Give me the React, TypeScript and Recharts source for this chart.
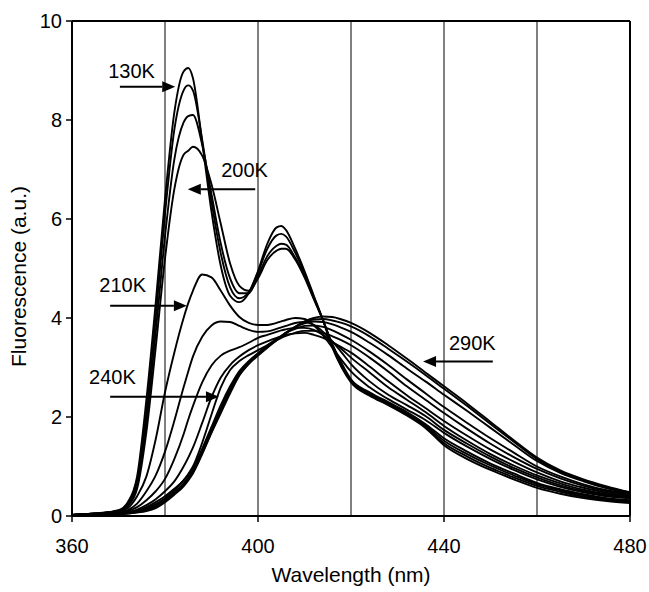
import React from "react";
import {
  LineChart,
  Line,
  XAxis,
  YAxis,
  ReferenceLine,
  ReferenceDot,
} from "recharts";

// wavelength grid (nm)
const wavelength = [
  360, 365, 370, 372, 374, 376, 378, 380, 382, 384, 385, 386, 388, 390, 392,
  394, 396, 398, 400, 402, 404, 405, 406, 408, 410, 412, 414, 416, 418, 420,
  424, 428, 432, 436, 440, 445, 450, 455, 460, 465, 470, 475, 480,
];

// fluorescence (a.u.) per temperature
const k130 = [0.02, 0.05, 0.12, 0.28, 0.8, 2.35, 4.3, 6.4, 8.15, 8.98, 9.05, 8.85, 7.55, 6.15, 5.05, 4.45, 4.32, 4.5, 4.95, 5.5, 5.83, 5.86, 5.78, 5.4, 4.95, 4.45, 3.95, 3.4, 3.0, 2.7, 2.43, 2.24, 2.03, 1.78, 1.43, 1.15, 0.93, 0.74, 0.57, 0.45, 0.36, 0.3, 0.26];
const k150 = [0.02, 0.05, 0.11, 0.25, 0.7, 2.1, 4.0, 6.1, 7.8, 8.6, 8.7, 8.6, 7.6, 6.35, 5.3, 4.62, 4.4, 4.52, 4.92, 5.4, 5.67, 5.7, 5.65, 5.32, 4.9, 4.42, 3.95, 3.42, 3.02, 2.72, 2.45, 2.26, 2.05, 1.8, 1.47, 1.2, 0.97, 0.78, 0.61, 0.49, 0.39, 0.32, 0.28];
const k170 = [0.02, 0.05, 0.1, 0.22, 0.62, 1.9, 3.7, 5.65, 7.2, 7.95, 8.08, 8.1, 7.5, 6.5, 5.5, 4.8, 4.5, 4.5, 4.85, 5.25, 5.46, 5.5, 5.48, 5.22, 4.85, 4.4, 3.95, 3.45, 3.05, 2.74, 2.47, 2.28, 2.07, 1.83, 1.52, 1.25, 1.02, 0.82, 0.64, 0.52, 0.42, 0.34, 0.3];
const k200 = [0.02, 0.05, 0.09, 0.2, 0.55, 1.7, 3.4, 5.2, 6.6, 7.3, 7.38, 7.46, 7.28, 6.7, 5.9, 5.1, 4.65, 4.55, 4.8, 5.17, 5.36, 5.4, 5.4, 5.18, 4.82, 4.38, 3.95, 3.47, 3.08, 2.76, 2.5, 2.3, 2.1, 1.86, 1.57, 1.3, 1.06, 0.86, 0.67, 0.54, 0.44, 0.36, 0.32];
const k210 = [0.02, 0.04, 0.08, 0.16, 0.4, 0.8, 1.55, 2.5, 3.3, 4.0, 4.3, 4.55, 4.88, 4.82, 4.55, 4.25, 4.02, 3.9, 3.86, 3.86, 3.9, 3.93, 3.96, 4.0, 3.98, 3.85, 3.65, 3.4, 3.15, 2.92, 2.6, 2.36, 2.15, 1.94, 1.68, 1.4, 1.15, 0.93, 0.74, 0.59, 0.48, 0.4, 0.36];
const k220 = [0.02, 0.04, 0.07, 0.12, 0.25, 0.5, 0.82, 1.3, 1.92, 2.6, 2.92, 3.22, 3.62, 3.85, 3.93, 3.92, 3.84, 3.76, 3.72, 3.73, 3.78, 3.81, 3.84, 3.9, 3.92, 3.86, 3.72, 3.53, 3.3, 3.07, 2.72, 2.45, 2.24, 2.02, 1.74, 1.46, 1.2, 0.97, 0.78, 0.62, 0.5, 0.42, 0.38];
const k230 = [0.02, 0.04, 0.06, 0.1, 0.18, 0.32, 0.5, 0.75, 1.15, 1.65, 1.95, 2.22, 2.7, 3.04, 3.24, 3.34, 3.41, 3.5, 3.6, 3.66, 3.72, 3.75, 3.77, 3.8, 3.8, 3.76, 3.66, 3.52, 3.37, 3.2, 2.9, 2.6, 2.35, 2.1, 1.82, 1.52, 1.25, 1.02, 0.82, 0.66, 0.53, 0.44, 0.4];
const k240 = [0.02, 0.03, 0.05, 0.08, 0.13, 0.22, 0.34, 0.5, 0.7, 1.0, 1.18, 1.38, 1.88, 2.4, 2.8, 3.05, 3.22, 3.35, 3.45, 3.53, 3.6, 3.63, 3.66, 3.69, 3.7, 3.66, 3.6, 3.51, 3.41, 3.3, 3.02, 2.72, 2.44, 2.18, 1.92, 1.62, 1.34, 1.1, 0.88, 0.7, 0.57, 0.47, 0.41];
const k250 = [0.02, 0.03, 0.05, 0.07, 0.11, 0.18, 0.28, 0.4, 0.55, 0.72, 0.85, 1.0, 1.48, 2.05, 2.6, 2.95, 3.13, 3.25, 3.35, 3.45, 3.55, 3.6, 3.64, 3.7, 3.74, 3.74, 3.7, 3.63, 3.55, 3.45, 3.2, 2.92, 2.62, 2.35, 2.08, 1.76, 1.46, 1.19, 0.95, 0.76, 0.61, 0.5, 0.43];
const k260 = [0.02, 0.03, 0.05, 0.06, 0.1, 0.16, 0.24, 0.36, 0.52, 0.72, 0.83, 0.96, 1.36, 1.8, 2.24, 2.62, 2.93, 3.13, 3.29, 3.45, 3.58, 3.64, 3.7, 3.78, 3.84, 3.85, 3.82, 3.75, 3.66, 3.56, 3.32, 3.05, 2.76, 2.48, 2.2, 1.88, 1.57, 1.28, 1.0, 0.8, 0.64, 0.52, 0.44];
const k270 = [0.02, 0.03, 0.04, 0.06, 0.09, 0.14, 0.21, 0.33, 0.48, 0.66, 0.78, 0.91, 1.3, 1.74, 2.17, 2.57, 2.89, 3.1, 3.27, 3.42, 3.56, 3.63, 3.7, 3.81, 3.89, 3.93, 3.92, 3.87, 3.8, 3.72, 3.5, 3.25, 2.98, 2.72, 2.45, 2.12, 1.78, 1.44, 1.11, 0.87, 0.7, 0.56, 0.46];
const k280 = [0.02, 0.03, 0.04, 0.05, 0.08, 0.12, 0.18, 0.3, 0.45, 0.63, 0.75, 0.88, 1.27, 1.7, 2.11, 2.52, 2.86, 3.08, 3.25, 3.41, 3.55, 3.62, 3.69, 3.82, 3.92, 3.97, 3.98, 3.95, 3.9, 3.83, 3.63, 3.38, 3.12, 2.85, 2.57, 2.22, 1.86, 1.5, 1.15, 0.9, 0.72, 0.58, 0.47];
const k290 = [0.02, 0.03, 0.04, 0.05, 0.07, 0.1, 0.16, 0.28, 0.43, 0.6, 0.72, 0.86, 1.25, 1.68, 2.08, 2.48, 2.84, 3.07, 3.24, 3.4, 3.55, 3.62, 3.7, 3.82, 3.93, 4.0, 4.03, 4.02, 3.97, 3.9, 3.7, 3.45, 3.18, 2.9, 2.62, 2.27, 1.9, 1.53, 1.18, 0.92, 0.74, 0.6, 0.48];

const series = [
  { key: "k130", values: k130 },
  { key: "k150", values: k150 },
  { key: "k170", values: k170 },
  { key: "k200", values: k200 },
  { key: "k210", values: k210 },
  { key: "k220", values: k220 },
  { key: "k230", values: k230 },
  { key: "k240", values: k240 },
  { key: "k250", values: k250 },
  { key: "k260", values: k260 },
  { key: "k270", values: k270 },
  { key: "k280", values: k280 },
  { key: "k290", values: k290 },
];

const xTicks = [360, 400, 440, 480];
const yTicks = [0, 2, 4, 6, 8, 10];
const gridX = [380, 400, 420, 440, 460];

// annotations in data units: label position, arrow tail -> tip at level y
const notes = [
  { text: "130K", tx: 372.8, ty: 9.0, tail: 370.3, tip: 382.2, y: 8.67 },
  { text: "200K", tx: 397.1, ty: 7.0, tail: 399.4, tip: 384.9, y: 6.6 },
  { text: "210K", tx: 370.9, ty: 4.66, tail: 368.2, tip: 384.7, y: 4.25 },
  { text: "240K", tx: 368.7, ty: 2.8, tail: 368.2, tip: 391.6, y: 2.41 },
  { text: "290K", tx: 446.1, ty: 3.5, tail: 450.5, tip: 435.5, y: 3.12 },
];

const rows = wavelength.map((w, i) => {
  const r: Record<string, number> = { w };
  series.forEach((s) => (r[s.key] = s.values[i]));
  return r;
});

const FONT = "'Liberation Sans', Arial, sans-serif";

function Arrow(props: any) {
  const { x1, y1, x2, y2 } = props;
  const dx = x2 - x1;
  const dy = y2 - y1;
  const len = Math.sqrt(dx * dx + dy * dy) || 1;
  const ux = dx / len;
  const uy = dy / len;
  const hl = 13;
  const hw = 5.5;
  const bx = x2 - ux * hl;
  const by = y2 - uy * hl;
  return (
    <g>
      <line x1={x1} y1={y1} x2={bx} y2={by} stroke="#000" strokeWidth={2} />
      <polygon
        points={`${x2},${y2} ${bx - uy * hw},${by + ux * hw} ${bx + uy * hw},${by - ux * hw}`}
        fill="#000"
      />
    </g>
  );
}

export default function App() {
  return (
    <div style={{ position: "absolute", left: 0, top: 0, background: "#fff" }}>
      <LineChart
        width={649}
        height={592}
        data={rows}
        margin={{ top: 21, right: 19, bottom: 6, left: 22 }}
      >
        <XAxis
          dataKey="w"
          type="number"
          domain={[360, 480]}
          ticks={xTicks}
          height={70}
          axisLine={{ stroke: "#000", strokeWidth: 2 }}
          tickLine={{ stroke: "#000", strokeWidth: 1.5 }}
          tickSize={6}
          tickMargin={17}
          tick={{ fill: "#000", fontSize: 20, fontFamily: FONT }}
          label={{
            value: "Wavelength (nm)",
            position: "insideBottom",
            offset: 4,
            fill: "#000",
            style: { fill: "#000", fontSize: 21, fontFamily: FONT },
          }}
        />
        <YAxis
          type="number"
          domain={[0, 10]}
          ticks={yTicks}
          width={50}
          axisLine={{ stroke: "#000", strokeWidth: 2 }}
          tickLine={{ stroke: "#000", strokeWidth: 1.5 }}
          tickSize={6}
          tickMargin={4}
          tick={{ fill: "#000", fontSize: 20, fontFamily: FONT }}
          label={{
            value: "Fluorescence (a.u.)",
            angle: -90,
            position: "insideLeft",
            offset: 0,
            dx: -3,
            dy: 8,
            fill: "#000",
            style: {
              fill: "#000",
              fontSize: 21,
              fontFamily: FONT,
              textAnchor: "middle",
            },
          }}
        />
        {gridX.map((g) => (
          <ReferenceLine key={g} x={g} stroke="#000" strokeWidth={1} />
        ))}
        <ReferenceLine y={10} stroke="#000" strokeWidth={2} />
        <ReferenceLine x={480} stroke="#000" strokeWidth={2} />
        {series.map((s) => (
          <Line
            key={s.key}
            dataKey={s.key}
            type="monotone"
            stroke="#000"
            strokeWidth={1.9}
            dot={false}
            activeDot={false}
            isAnimationActive={false}
          />
        ))}
        {notes.map((n) => (
          <ReferenceLine
            key={n.text + "a"}
            segment={[
              { x: n.tail, y: n.y },
              { x: n.tip, y: n.y },
            ]}
            shape={Arrow}
          />
        ))}
        {notes.map((n) => (
          <ReferenceDot
            key={n.text + "t"}
            x={n.tx}
            y={n.ty}
            r={0}
            shape={(p: any) => (
              <text
                x={p.cx}
                y={p.cy}
                textAnchor="middle"
                dominantBaseline="central"
                fill="#000"
                fontSize={20}
                fontFamily={FONT}
              >
                {n.text}
              </text>
            )}
          />
        ))}
      </LineChart>
    </div>
  );
}
